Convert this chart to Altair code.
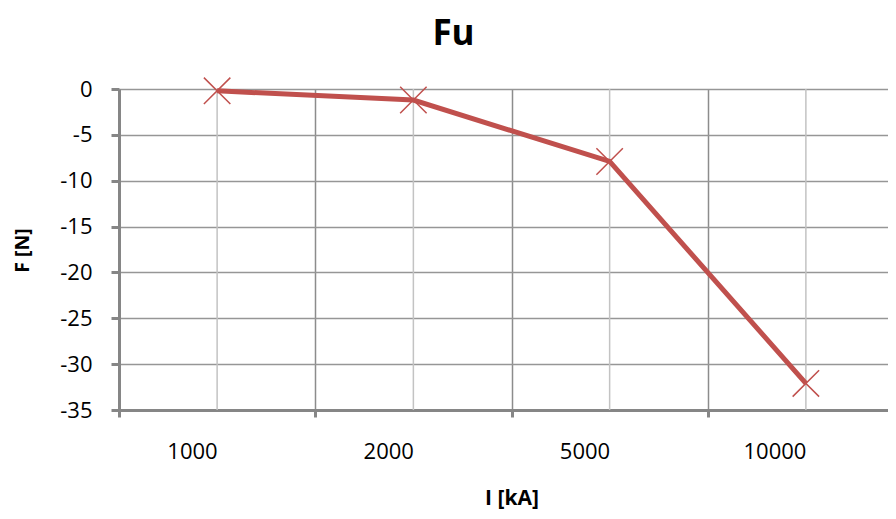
import altair as alt
import pandas as pd

categories = ["1000", "2000", "5000", "10000"]
force = [-0.2, -1.2, -7.9, -32.1]
y_ticks = [0, -5, -10, -15, -20, -25, -30, -35]

df = pd.DataFrame({"I": categories, "F": force})

RED = "#c0504d"
AXIS = "#868686"
FONT = "Open Sans"

xscale = alt.Scale(domain=categories, range=[0, 785], paddingInner=0, paddingOuter=0)
yscale = alt.Scale(domain=[-35, 0], nice=False)

x_enc = alt.X(
    "I:N",
    sort=categories,
    scale=xscale,
    title="I [kA]",
    axis=alt.Axis(
        labelAngle=0,
        tickBand="extent",
        grid=True,
        gridColor="#8c8c8c",
        gridWidth=1.5,
        domainColor=AXIS,
        domainWidth=3,
        tickColor=AXIS,
        tickWidth=3,
        tickSize=7,
        labelFont=FONT,
        labelFontSize=22,
        labelColor="#000000",
        labelPadding=34,
        titleFont=FONT,
        titleFontSize=21,
        titleFontWeight="bold",
        titleColor="#000000",
        titleBaseline="alphabetic",
        titleY=94,
    ),
)

y_enc = alt.Y(
    "F:Q",
    scale=yscale,
    title="F [N]",
    axis=alt.Axis(
        values=y_ticks,
        labelExpr="datum.value + ''",
        grid=True,
        gridColor="#969696",
        gridWidth=1.5,
        domainColor=AXIS,
        domainWidth=3,
        tickColor=AXIS,
        tickWidth=3,
        tickSize=8,
        labelFont=FONT,
        labelFontSize=22,
        labelColor="#000000",
        labelPadding=19,
        titleFont=FONT,
        titleFontSize=19.5,
        titleFontWeight="bold",
        titleColor="#000000",
        titleX=-97,
        titleY=161,
        titleBaseline="middle",
    ),
)

base = alt.Chart(df)

center_grid = base.mark_rule(color="#c3c3c3", strokeWidth=1.5).encode(
    x=alt.X("I:N", sort=categories, scale=xscale)
)

line = base.mark_line(color=RED, strokeWidth=5).encode(x=x_enc, y=y_enc)

points = base.mark_point(
    shape="M-1,-1L1,1M-1,1L1,-1",
    filled=False,
    color=RED,
    strokeWidth=1.5,
    size=700,
    opacity=1,
).encode(x=alt.X("I:N", sort=categories, scale=xscale), y=alt.Y("F:Q", scale=yscale))

chart = (
    alt.layer(center_grid, line, points)
    .properties(
        width=769,
        height=321,
        padding={"left": 111, "top": 81, "right": 0, "bottom": 101},
        autosize=alt.AutoSizeParams(type="none"),
        title=alt.TitleParams(
            "Fu",
            font=FONT,
            fontSize=35,
            fontWeight="bold",
            color="#000000",
            anchor="middle",
            dx=-50,
            baseline="top",
            offset=23,
        ),
    )
    .configure_view(stroke=None)
)

chart.save("out.html", embed_options={"renderer": "svg", "actions": False})
